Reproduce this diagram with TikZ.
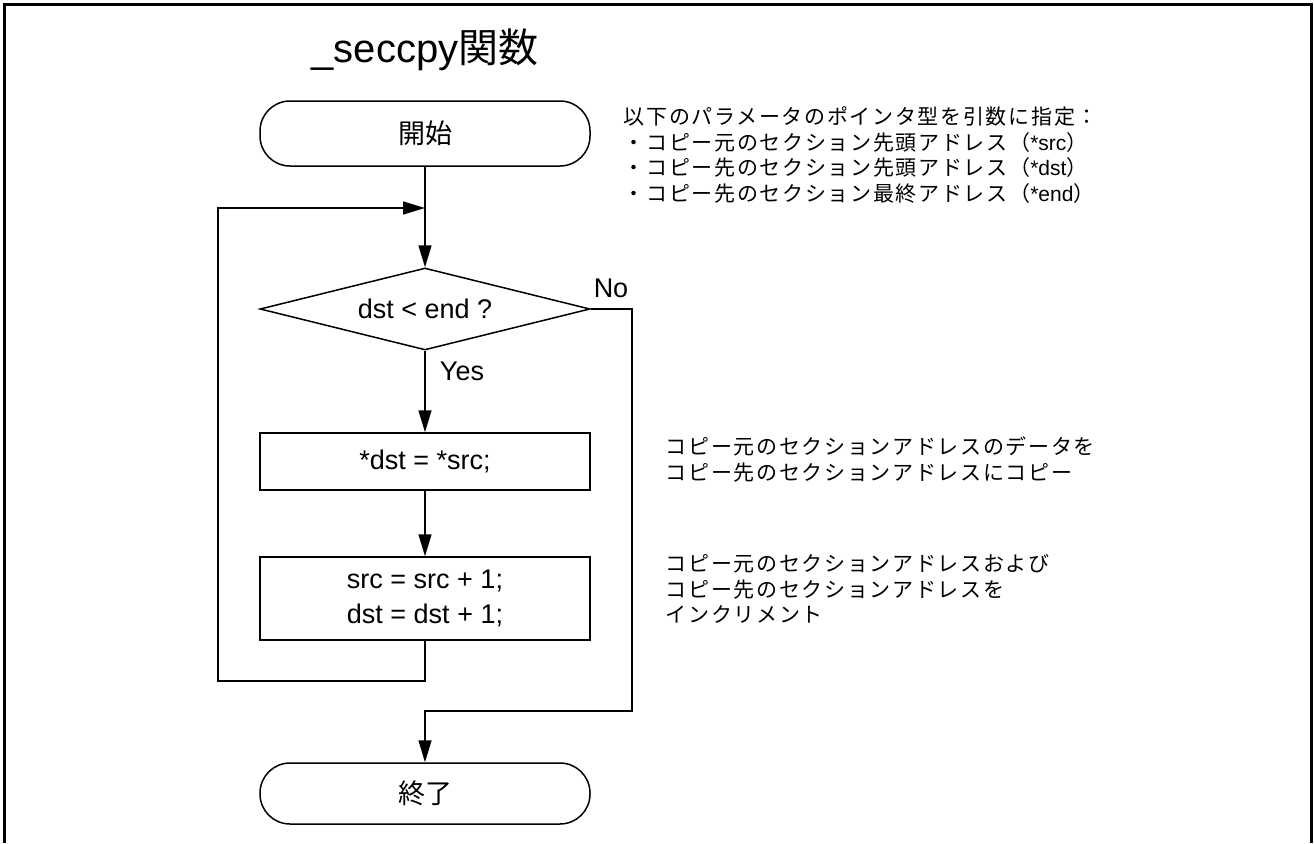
\documentclass[tikz,border=0pt]{standalone}
\usepackage{fontspec}
\setmainfont{Liberation Sans}
\newfontfamily\jp{Noto Sans CJK JP}
\newfontfamily\jpw{Noto Sans CJK JP}[LetterSpace=8]
\usetikzlibrary{shapes.geometric,arrows.meta}
\begin{document}
\begin{tikzpicture}[x=1pt,y=-1pt,line width=1.5pt,
  flow/.style={draw, minimum width=330pt, inner sep=0pt, font=\fontsize{27}{35}\selectfont},
  term/.style={flow, rounded corners=30pt},
  proc/.style={flow, align=center},
  dec/.style={flow, diamond, minimum height=82pt, shape aspect=4},
  arr/.style={-{Triangle[length=22pt,width=13pt]}},
  lbl/.style={inner sep=0pt, font=\fontsize{27}{30}\selectfont},
  note/.style={anchor=north west, align=left, inner sep=0pt, font=\fontsize{21}{25.5}\selectfont}]
\useasboundingbox (0,0) rectangle (1314,843);
% frame
\draw[line width=3pt] (4.5,843) -- (4.5,4.5) -- (1311.5,4.5) -- (1311.5,843);
% title
\node[inner sep=0pt, font=\fontsize{40}{46}\selectfont] (title) at (425,50) {\_seccpy{\jp 関数}};
% flow nodes
\node[term, minimum height=65pt] (start) at (425,133.5) {\jp 開始};
\node[dec] (cond) at (425,309) {dst < end ?};
\node[proc, minimum height=57pt] (copy) at (425,461.5) {*dst = *src;};
\node[proc, minimum height=83pt] (inc) at (425,598.5) {src = src + 1;\\dst = dst + 1;};
\node[term, minimum height=61pt] (stop) at (425,793.5) {\jp 終了};
% coordinates
\coordinate (m) at (425,208);
\coordinate (l1) at (425,681);
\coordinate (l2) at (218,681);
\coordinate (l3) at (218,208);
\coordinate (n1) at (632,309);
\coordinate (n2) at (632,711);
\coordinate (n3) at (425,711);
% connectors
\draw[arr] (start.south) -- (cond.north);
\draw[arr] (cond.south) -- (copy.north);
\draw[arr] (copy.south) -- (inc.north);
\draw[arr] (inc.south) -- (l1) -- (l2) -- (l3) -- (m);
\draw[arr] (cond.east) -- (n1) -- (n2) -- (n3) -- (stop.north);
% labels
\node[lbl] (no) at (611,288) {No};
\node[lbl] (yes) at (462,371) {Yes};
% notes
\node[note] (note1) at (623,106) {{\jpw 以下のパラメータのポインタ型を引数に指定：}\\
{\jpw ・コピー元のセクション先頭アドレス（}*src{\jpw ）}\\
{\jpw ・コピー先のセクション先頭アドレス（}*dst{\jpw ）}\\
{\jpw ・コピー先のセクション最終アドレス（}*end{\jpw ）}};
\node[note] (note2) at (665,436) {{\jpw コピー元のセクションアドレスのデータを}\\
{\jpw コピー先のセクションアドレスにコピー}};
\node[note] (note3) at (665,554) {{\jpw コピー元のセクションアドレスおよび}\\
{\jpw コピー先のセクションアドレスを}\\
{\jpw インクリメント}};
\end{tikzpicture}
\end{document}
